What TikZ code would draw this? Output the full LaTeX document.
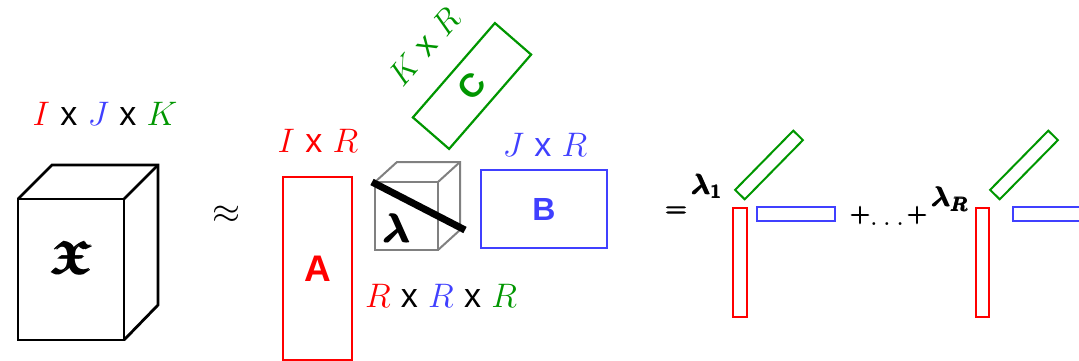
\RequirePackage{fix-cm}
\documentclass[tikz,border=0pt]{standalone}
\usepackage{amsmath,amssymb}
\usepackage{graphicx}
\usepackage{fontspec}
\newfontfamily\arialf{Liberation Sans}
\newfontfamily\heavy[FakeBold=3.5]{Latin Modern Roman}
\definecolor{myred}{RGB}{255,0,0}
\definecolor{myblue}{RGB}{64,64,255}
\definecolor{mygreen}{RGB}{0,150,0}
\definecolor{mygray}{RGB}{128,128,128}
\newcommand{\xx}{{\arialf x}}
\begin{document}
\begin{tikzpicture}[x=1pt,y=-1pt,
  lbl/.style={font=\fontsize{34}{40}\selectfont, anchor=base, inner sep=0pt},
  mat/.style={draw, line width=2.2pt, inner sep=0pt},
  bar/.style={draw, line width=2pt, inner sep=0pt},
  sym/.style={inner sep=0pt, font=\fontsize{27}{30}\selectfont\heavy},
  cubeX/.style={line width=2.8pt, black},
  cubeL/.style={line width=2pt, mygray}]
\useasboundingbox (0,0) rectangle (1079,361);
\clip (0,0) rectangle (1079,361);

% tensor X
\draw[cubeX] (18,199) rectangle (124,340);
\draw[cubeX] (18,199) -- (52,165) -- (158,165) -- (158,305) -- (124,340);
\draw[cubeX] (124,199) -- (158,165);
\node[inner sep=0pt, font=\fontsize{24.88}{30}\selectfont] (frak) at (72,257) {\scalebox{1.95}[1.85]{$\pmb{\boldsymbol{\mathfrak{X}}}$}};
\node[lbl] (dimX) at (105,125) {\textcolor{myred}{$I$} \xx{} \textcolor{myblue}{$J$} \xx{} \textcolor{mygreen}{$K$}};

\node[inner sep=0pt, font=\fontsize{36}{40}\selectfont] (approx) at (226,215) {$\approx$};

% factor A
\node[mat, draw=myred, text=myred, minimum width=69pt, minimum height=183pt,
  font=\fontsize{37}{40}\selectfont\arialf\bfseries] (A) at (317.5,268.5) {A};
\node[lbl, text=myred] (dimA) at (318,152) {$I$ \xx{} $R$};

% core lambda cube
\draw[cubeL] (375,182) rectangle (438,250);
\draw[cubeL] (375,182) -- (397,162) -- (460,162) -- (460,230) -- (438,250);
\draw[cubeL] (438,182) -- (460,162);
\node[inner sep=0pt, font=\fontsize{40}{44}\selectfont] (lam) at (397,228) {$\pmb{\boldsymbol{\lambda}}$};
\draw[line width=7pt] (372,182) -- (465,230);
\node[lbl] (dimL) at (441,307) {\textcolor{myred}{$R$} \xx{} \textcolor{myblue}{$R$} \xx{} \textcolor{mygreen}{$R$}};

% factor B
\node[mat, draw=myblue, text=myblue, minimum width=126pt, minimum height=78pt,
  font=\fontsize{32}{36}\selectfont\arialf\bfseries] (B) at (544,209) {B};
\node[lbl, text=myblue] (dimB) at (545,156) {$J$ \xx{} $R$};

% factor C
\coordinate (Cc) at (472,86);
\draw[mat, draw=mygreen, rotate around={49:(Cc)}] (409.5,62) rectangle (534.5,110);
\node[text=mygreen, inner sep=0pt, rotate=49,
  font=\fontsize{33}{36}\selectfont\arialf\bfseries] (C) at (Cc) {C};
\node[text=mygreen, inner sep=0pt, rotate=49, font=\fontsize{33}{38}\selectfont] (dimC) at (424,47) {$K$ \xx{} $R$};

% rank-one terms
\node[sym, font=\fontsize{29}{32}\selectfont\heavy] (eq) at (676,212) {=};
\node[inner sep=0pt, font=\fontsize{28}{30}\selectfont] (l1) at (707,186) {$\pmb{\boldsymbol{\lambda}}_{\pmb{\boldsymbol{1}}}$};
\node[bar, draw=myred, minimum width=14pt, minimum height=109pt] (a1) at (740,262.5) {};
\node[bar, draw=myblue, minimum width=78pt, minimum height=14pt] (b1) at (796,214) {};
\node[bar, draw=mygreen, minimum width=83pt, minimum height=13.5pt, rotate=45.5] (c1) at (769,165) {};

\node[sym] (p1) at (860,215) {+};
\node[inner sep=0pt, anchor=base, font=\fontsize{30}{32}\selectfont] (dots) at (887,225) {$\ldots$};
\node[sym] (p2) at (917,215) {+};

\node[inner sep=0pt, font=\fontsize{28}{30}\selectfont] (lR) at (950,199) {$\pmb{\boldsymbol{\lambda}}_{\pmb{\boldsymbol{R}}}$};
\node[bar, draw=myred, minimum width=13pt, minimum height=109pt] (a2) at (982.5,262.5) {};
\node[bar, draw=myblue, minimum width=78pt, minimum height=14pt] (b2) at (1052,214) {};
\node[bar, draw=mygreen, minimum width=83pt, minimum height=13.5pt, rotate=45.5] (c2) at (1024,165) {};
\end{tikzpicture}
\end{document}
